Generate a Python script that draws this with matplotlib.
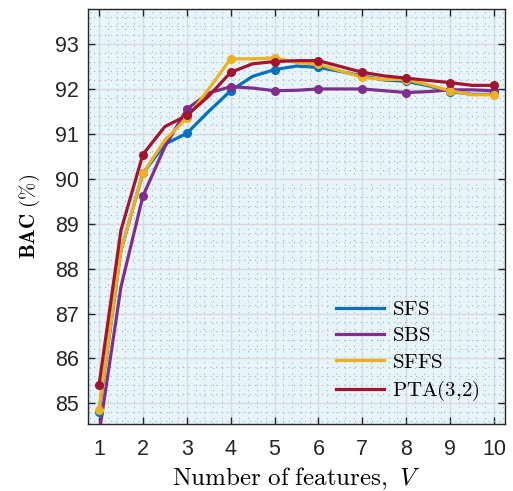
import numpy as np
import matplotlib
matplotlib.use("Agg")
import matplotlib.pyplot as plt
from matplotlib.ticker import MultipleLocator
from matplotlib.lines import Line2D

plt.rcParams['mathtext.fontset'] = 'cm'
plt.rcParams['font.family'] = ['Liberation Sans', 'DejaVu Sans']

# feature counts (line vertices at half steps, markers at integers)
x_line = [1, 1.5, 2, 2.5, 3, 3.5, 4, 4.5, 5, 5.5, 6, 6.5, 7, 7.5, 8, 8.5, 9, 9.5, 10]
x_mark = [1, 2, 3, 4, 5, 6, 7, 8, 9, 10]

sfs = [84.80, 88.40, 90.12, 90.77, 91.01, 91.50, 91.96, 92.28, 92.43, 92.51, 92.48,
       92.39, 92.29, 92.20, 92.17, 92.07, 91.94, 91.88, 91.88]
sbs = [84.30, 87.59, 89.61, 90.71, 91.55, 91.91, 92.05, 92.02, 91.96, 91.97, 92.00,
       92.00, 92.00, 91.96, 91.92, 91.94, 91.98, 91.98, 91.96]
sffs = [84.86, 88.41, 90.12, 90.86, 91.35, 92.00, 92.67, 92.67, 92.69, 92.59, 92.55,
        92.40, 92.26, 92.21, 92.21, 92.09, 91.96, 91.87, 91.87]
pta = [85.40, 88.85, 90.54, 91.16, 91.41, 91.84, 92.37, 92.56, 92.61, 92.63, 92.63,
       92.50, 92.37, 92.29, 92.24, 92.19, 92.14, 92.08, 92.08]

names = ['SFS', 'SBS', 'SFFS', 'PTA(3{,}2)']
series = [sfs, sbs, sffs, pta]
colors = ['#0072BD', '#7E2F8E', '#EDB120', '#A2142F']

fig = plt.figure(figsize=(5.13, 4.91), dpi=100)
ax = fig.add_axes([88/513, 1 - 424/491, 417/513, 415/491])
ax.set_facecolor('#E7F5FB')

idx = [x_line.index(v) for v in x_mark]
for ys, c in zip(series, colors):
    ax.plot(x_line, ys, color=c, lw=2.3, zorder=3, solid_joinstyle='round')
    ax.plot(x_mark, [ys[i] for i in idx], 'o', color=c, ms=5.5, zorder=4)

ax.set_xlim(0.75, 10.25)
ax.set_ylim(84.54, 93.78)
ax.xaxis.set_major_locator(MultipleLocator(1))
ax.yaxis.set_major_locator(MultipleLocator(1))
ax.xaxis.set_minor_locator(MultipleLocator(0.2))
ax.yaxis.set_minor_locator(MultipleLocator(0.2))
ax.grid(True, which='major', color='#D9D9D9', lw=1.0, zorder=0)
ax.grid(True, which='minor', color='#B0B0B0', lw=0.8, ls=(0, (1, 4)), zorder=0)
ax.set_axisbelow(True)

ax.tick_params(which='both', direction='in', top=True, right=True)
ax.tick_params(which='major', length=5, width=1, labelsize=15.5, colors='#262626')
ax.tick_params(axis='x', which='major', pad=11)
ax.tick_params(axis='y', which='major', pad=6.5)
ax.tick_params(which='minor', length=0)
for s in ax.spines.values():
    s.set_linewidth(1.0)
    s.set_color('#262626')

ax.set_xlabel(r'$\mathrm{Number\ of\ features,}\ V$', fontsize=18, labelpad=4)
ax.set_ylabel(r'$\mathbf{BAC\ (\%)}$', fontsize=15, labelpad=9)

handles = [Line2D([], [], color=c, lw=2.3) for c in colors]
labels = [r'$\mathrm{%s}$' % n for n in names]
ax.legend(handles, labels, loc='lower right', bbox_to_anchor=(0.985, 0.005), frameon=False,
          fontsize=15, handlelength=2.3, handletextpad=0.4, labelspacing=0.35)

fig.savefig('out.png', dpi=100)
